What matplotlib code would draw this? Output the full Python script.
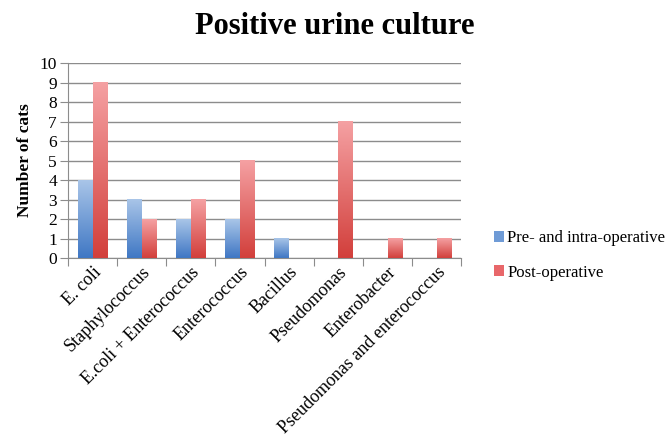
import matplotlib
matplotlib.use("Agg")
import matplotlib.pyplot as plt
import matplotlib.transforms as mtransforms
import numpy as np
from matplotlib.colors import LinearSegmentedColormap
from matplotlib.patches import Patch

categories = [
    "E. coli",
    "Staphylococcus",
    "E.coli + Enterococcus",
    "Enterococcus",
    "Bacillus",
    "Pseudomonas",
    "Enterobacter",
    "Pseudomonas and enterococcus",
]
pre_intra = [4, 3, 2, 2, 1, 0, 0, 0]
post_op = [9, 2, 3, 5, 0, 7, 1, 1]
series_names = ["Pre- and intra-operative", "Post-operative"]

plt.rcParams["font.family"] = ["Liberation Serif", "DejaVu Serif"]

blue_cmap = LinearSegmentedColormap.from_list("b", ["#3f77c4", "#a9c5e8"])
red_cmap = LinearSegmentedColormap.from_list("r", ["#d23f3b", "#f5a1a3"])

fig = plt.figure(figsize=(6.7, 4.48), dpi=100)
ax = fig.add_axes([0.1015, 0.424, 0.587, 0.435])

x = np.arange(len(categories))
width = 0.3
grad = np.linspace(0, 1, 256).reshape(-1, 1)


def gradient_bar(x0, h, cmap):
    if h <= 0:
        return
    ax.imshow(grad, extent=(x0, x0 + width, 0, h), origin="lower",
              cmap=cmap, aspect="auto", zorder=3, interpolation="bicubic")


for i in range(len(categories)):
    gradient_bar(x[i] - width, pre_intra[i], blue_cmap)
    gradient_bar(x[i], post_op[i], red_cmap)

ax.set_xlim(-0.5, len(categories) - 0.5)
ax.set_ylim(0, 10)
ax.set_yticks(range(0, 11))
ax.yaxis.grid(True, color="#8c8c8c", linewidth=1.0, zorder=0)
ax.set_axisbelow(True)

ax.set_xticks(np.arange(-0.5, len(categories), 1.0), minor=False)
ax.set_xticklabels([])
ax.set_xticks(x, minor=True)
labels = ax.set_xticklabels(categories, minor=True, rotation=45, ha="right",
                            rotation_mode="anchor", fontsize=13)
shift = mtransforms.ScaledTranslation(6 / 100, -3 / 100, fig.dpi_scale_trans)
for lab in labels:
    lab.set_transform(lab.get_transform() + shift)
ax.tick_params(axis="x", which="minor", length=0, pad=4)
ax.tick_params(axis="x", which="major", length=6, color="#8c8c8c", direction="out")
ax.tick_params(axis="y", length=6, color="#8c8c8c", labelsize=12.5, pad=2)

for side in ["top", "right"]:
    ax.spines[side].set_visible(False)
for side in ["left", "bottom"]:
    ax.spines[side].set_color("#8c8c8c")

ax.set_ylabel("Number of cats", fontsize=12.5, fontweight="bold", labelpad=5)
fig.text(0.5, 0.94, "Positive urine culture", ha="center", va="center",
         fontsize=22, fontweight="bold")

handles = [Patch(facecolor="#6f9bd6", edgecolor="none"),
           Patch(facecolor="#e8676a", edgecolor="none")]
fig.legend(handles, series_names, loc="center left", bbox_to_anchor=(0.715, 0.43),
           frameon=False, fontsize=12, handlelength=0.6, handleheight=0.6,
           handletextpad=0.2, labelspacing=1.1)

fig.savefig("out.png", dpi=100)
